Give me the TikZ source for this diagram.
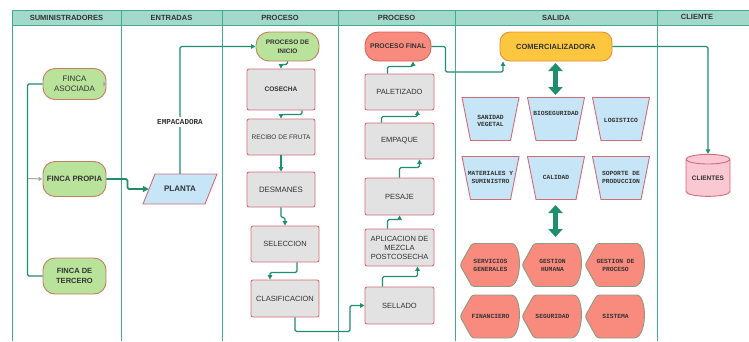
\documentclass[tikz,border=0pt]{standalone}
\usepackage{fontspec}
\setmainfont{Liberation Sans}
\newfontfamily\monof{Liberation Mono}
\usetikzlibrary{arrows.meta,shapes.geometric}
\definecolor{hdr}{HTML}{A2D9CB}
\definecolor{lane}{HTML}{45A98F}
\definecolor{conn}{HTML}{1F8E6F}
\definecolor{grn}{HTML}{B9E29B}
\definecolor{grnb}{HTML}{C47E62}
\definecolor{gry}{HTML}{E2E2E2}
\definecolor{pnkb}{HTML}{D26A78}
\definecolor{blu}{HTML}{C6E5F6}
\definecolor{sal}{HTML}{F98B7E}
\definecolor{salb}{HTML}{D9605A}
\definecolor{yel}{HTML}{FCC63E}
\definecolor{yelb}{HTML}{E58E3A}
\definecolor{dispb}{HTML}{8C9A82}
\definecolor{pnk}{HTML}{F9C8D3}
\definecolor{txt}{HTML}{333333}
\tikzset{
  base/.style={inner sep=0pt, align=center, text=txt},
  hdrtxt/.style={base, font=\fontsize{7.5}{9}\selectfont\bfseries},
  rndgreen/.style={base, rectangle, rounded corners=12pt, fill=grn, draw=grnb, line width=0.9pt},
  grybox/.style={base, rectangle, rounded corners=2pt, fill=gry, draw=pnkb, line width=0.9pt, minimum width=68pt, font=\fontsize{7.5}{9}\selectfont},
  monotxt/.style={base, font=\fontsize{6.3}{7.5}\selectfont\monof\bfseries},
  fl/.style={draw=conn, line width=1.2pt, rounded corners=1.5pt, -{Triangle[length=4.5pt,width=4.5pt]}},
  plainl/.style={draw=conn, line width=1.2pt, rounded corners=1.5pt},
  lanel/.style={draw=lane, line width=0.9pt},
  dbl/.style={draw=conn, line width=5pt, {Triangle[length=8pt,width=14pt]}-{Triangle[length=8pt,width=14pt]}},
  trapz/.pic={\draw[fill=blu, draw=pnkb, line width=0.9pt] (-28.5,-21.5) -- (28.5,-21.5) -- (20,21.5) -- (-20,21.5) -- cycle;},
  disp/.pic={\draw[fill=sal, draw=dispb, line width=0.9pt, rounded corners=2.5pt] (-29.5,0) -- (-17.5,-21.5) -- (19.5,-21.5) [sharp corners] .. controls (33,-21.5) and (33,21.5) .. (19.5,21.5) [rounded corners=2.5pt] -- (-17.5,21.5) -- cycle;}
}
\begin{document}
\begin{tikzpicture}[x=1pt,y=-1pt]
\useasboundingbox (0,0) rectangle (749,341);
% header and lanes
\draw[fill=hdr, draw=lane, line width=0.9pt] (12,10) rectangle (749,25);
\foreach \lx in {12,121,222,338,455,657} {\draw[lanel] (\lx,10) -- (\lx,341);}
\node[hdrtxt] (h1) at (66.5,17.5) {SUMINISTRADORES};
\node[hdrtxt] (h2) at (171.5,17.5) {ENTRADAS};
\node[hdrtxt] (h3) at (280,17.5) {PROCESO};
\node[hdrtxt] (h4) at (396.5,17.5) {PROCESO};
\node[hdrtxt] (h5) at (556,17.5) {SALIDA};
\node[hdrtxt] (h6) at (697,16.5) {CLIENTE};
% suministradores
\node[rndgreen, minimum width=63pt, minimum height=31pt, font=\fontsize{7.9}{10.5}\selectfont] (fa) at (74.5,84) {FINCA\\ASOCIADA};
\node[rndgreen, minimum width=63pt, minimum height=35pt, font=\fontsize{7.7}{9}\selectfont\bfseries] (fp) at (74.5,179) {FINCA PROPIA};
\node[rndgreen, minimum width=63pt, minimum height=36pt, font=\fontsize{7.5}{9.5}\selectfont\bfseries] (ft) at (74.5,276) {FINCA DE\\TERCERO};
\fill[gray!70] (fa.east) ++(-3,-2.5) -- ++(3,2.5) -- ++(-3,2.5) -- cycle;
\coordinate (jn) at (28,178.5);
\draw[plainl] (fa.west) -- ++(-15,0) |- (ft.west);
\draw[draw=gray!70, line width=1pt, -{Triangle[length=4pt,width=4pt]}] (jn) -- (fp.west);
% entradas
\draw[fill=blu, draw=pnkb, line width=0.9pt] (143,204) -- (155,174) -- (217,174) -- (205,204) -- cycle;
\node[base, minimum width=62pt, minimum height=30pt, font=\fontsize{8}{9}\selectfont\bfseries] (pl) at (180,189) {PLANTA};
\draw[draw=conn, line width=1.8pt, rounded corners=1.5pt, -{Triangle[length=6pt,width=6pt]}] (fp.east) -- ++(21,0) |- (pl.west);
% proceso 1
\node[rndgreen, minimum width=63pt, minimum height=29pt, rounded corners=13pt, font=\fontsize{6.5}{9}\selectfont\bfseries] (pi) at (287.5,46.5) {PROCESO DE\\INICIO};
\draw[fl] (pl.north) |- (pi.west);
\node[base, fill=white, inner sep=2pt, font=\fontsize{7.6}{9}\selectfont\monof\bfseries] (emplbl) at (180,122) {EMPACADORA};
\node[grybox, minimum height=41pt, font=\fontsize{6.6}{8}\selectfont\bfseries] (cos) at (281,89.5) {COSECHA};
\node[grybox, minimum height=36pt, font=\fontsize{6.5}{8}\selectfont] (rec) at (281,137) {RECIBO DE FRUTA};
\node[grybox, minimum height=35pt, font=\fontsize{7.8}{9}\selectfont] (des) at (281,189.5) {DESMANES};
\node[grybox, minimum height=36pt] (sel) at (285,244) {SELECCION};
\node[grybox, minimum height=37pt] (cla) at (285,298.5) {CLASIFICACION};
\draw[fl] (pi.south) -- ++(0,3) -| (cos.north);
\draw[fl] ([xshift=21pt]cos.south) -- ++(0,4) -| (rec.north);
\draw[fl] (rec.south) -- (des.north);
\draw[fl] (des.south) -- ++(0,10) -| (sel.north);
\draw[fl] ([xshift=12pt]sel.south) -- ++(0,10) -| ([xshift=-15pt]cla.north);
% proceso 2
\node[grybox, minimum width=69pt, minimum height=37pt] (sell) at (399.5,305.5) {SELLADO};
\node[grybox, minimum width=69pt, minimum height=37pt, font=\fontsize{7.5}{9}\selectfont] (apl) at (399.5,247.5) {APLICACION DE\\MEZCLA\\POSTCOSECHA};
\node[grybox, minimum width=69pt, minimum height=37pt] (pes) at (399.5,196.5) {PESAJE};
\node[grybox, minimum width=69pt, minimum height=36pt] (emp) at (399.5,141) {EMPAQUE};
\node[grybox, minimum width=69pt, minimum height=36pt] (pal) at (399.5,92) {PALETIZADO};
\node[base, rectangle, rounded corners=13pt, fill=sal, draw=salb, line width=0.9pt, minimum width=66pt, minimum height=29pt, font=\fontsize{6.8}{8}\selectfont\bfseries] (pf) at (398,46.5) {PROCESO FINAL};
\draw[fl] ([xshift=10pt]cla.south) -- ++(0,14) -- ++(55,0) |- (sell.west);
\draw[fl] ([xshift=-17pt]sell.north) -- ++(0,-10) -| ([xshift=18pt]apl.south);
\draw[fl] ([xshift=-12pt]apl.north) -- ++(0,-9) -| (pes.south);
\draw[fl] (pes.north) -- ++(0,-10) -| ([xshift=20pt]emp.south);
\draw[fl] ([xshift=-18pt]emp.north) -- ++(0,-6) -| ([xshift=18pt]pal.south);
\draw[fl] ([xshift=-12pt]pal.north) -- ++(0,-7) -| ([xshift=15pt]pf.south);
% salida
\node[base, rectangle, rounded corners=10pt, fill=yel, draw=yelb, line width=0.9pt, minimum width=112pt, minimum height=29pt, font=\fontsize{7.5}{9}\selectfont\bfseries] (com) at (556,46.5) {COMERCIALIZADORA};
\draw[fl] (pf.east) -- ++(14,0) -- ++(0,25.5) -| ([xshift=-53pt]com.south);
\pic at (490.5,119) {trapz};
\pic at (556,119) {trapz};
\pic at (621,119) {trapz};
\pic at (490.5,178) {trapz};
\pic at (556,178) {trapz};
\pic at (621,178) {trapz};
\node[monotxt] (t1) at (490.5,121) {SANIDAD\\VEGETAL};
\node[monotxt] (t2) at (556,113) {BIOSEGURIDAD};
\node[monotxt] (t3) at (621,120) {LOGISTICO};
\node[monotxt] (t4) at (490.5,177.5) {MATERIALES Y\\SUMINISTRO};
\node[monotxt] (t5) at (556,177) {CALIDAD};
\node[monotxt] (t6) at (621,177.5) {SOPORTE DE\\PRODUCCION};
\coordinate (d1a) at (555.5,63);
\coordinate (d1b) at (555.5,95);
\coordinate (d2a) at (555.5,205);
\coordinate (d2b) at (555.5,237);
\draw[dbl] (d1a) -- (d1b);
\draw[dbl] (d2a) -- (d2b);
\pic at (489.5,265) {disp};
\pic at (551.5,265) {disp};
\pic at (614.5,265) {disp};
\pic at (489.5,316.5) {disp};
\pic at (551.5,316.5) {disp};
\pic at (614.5,316.5) {disp};
\node[monotxt] (s1) at (490.5,265.5) {SERVICIOS\\GENERALES};
\node[monotxt] (s2) at (552.5,265.5) {GESTION\\HUMANA};
\node[monotxt] (s3) at (615.5,265.5) {GESTION DE\\PROCESO};
\node[monotxt] (s4) at (490.5,316.5) {FINANCIERO};
\node[monotxt] (s5) at (552.5,316.5) {SEGURIDAD};
\node[monotxt] (s6) at (615.5,316.5) {SISTEMA};
% cliente
\node[base, cylinder, shape border rotate=90, aspect=0.3, minimum width=44pt, minimum height=42pt, fill=pnk, draw=pnkb, line width=0.9pt, font=\fontsize{6.5}{8}\selectfont\bfseries] (cli) at (708,178) {CLIENTES};
\draw[fl] (com.east) -| (cli.north);
\end{tikzpicture}
\end{document}
